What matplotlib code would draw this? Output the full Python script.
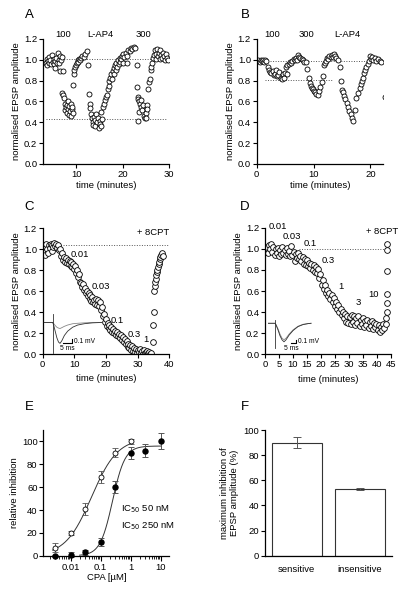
import numpy as np
import matplotlib
matplotlib.use('Agg')
import matplotlib.pyplot as plt

plt.rcParams['font.family'] = ['Liberation Sans', 'DejaVu Sans']
plt.rcParams['font.size'] = 6.8

# ---- panel A: 100 nM, L-AP4, 300 nM ----
a_time = [3.5, 3.6, 3.8, 3.9, 4.1, 4.2, 4.4, 4.6, 4.7, 4.9, 5.1, 5.2, 5.4, 5.5, 5.7, 5.9, 6.0, 6.2, 6.3, 6.5, 6.6, 6.8, 7.0, 7.1,
          6.9, 7.1, 7.3, 7.5, 7.6, 7.8, 7.9, 8.0, 8.2, 8.3, 8.4, 8.5, 8.6, 8.8, 8.9, 9.0, 9.1, 9.2,
          9.2, 9.4, 9.5, 9.7, 9.9, 10.1, 10.3, 10.4, 10.6, 10.8, 11.0, 11.3, 11.6, 11.9, 12.3, 12.6,
          12.8, 12.9, 13.0, 13.2, 13.3, 13.5, 13.6, 13.8, 14.0, 14.1, 14.3, 14.5, 14.6, 14.8, 15.0, 15.1, 15.3, 15.4,
          15.6, 15.8, 16.0, 16.2, 16.4, 16.6, 16.8, 17.0, 17.1, 17.3, 17.5, 17.7, 17.8, 18.0, 18.1, 18.3, 18.5, 18.6,
          18.8, 19.0, 19.1, 19.3, 19.5, 19.6, 19.8, 20.0, 20.1, 20.3, 20.6, 20.8, 21.0, 21.2, 21.5, 21.8, 22.0, 22.3, 22.6,
          23.0, 23.1, 23.2, 23.3, 23.4, 23.5, 23.3, 23.7, 23.9, 24.0, 24.2, 24.4, 24.5, 24.7, 24.9, 25.0, 25.2, 25.3,
          25.5, 25.7, 25.8, 26.0, 26.1, 26.3, 26.5, 26.7, 26.9, 27.1, 27.2, 27.4, 27.6, 27.8, 27.9, 28.1, 28.3, 28.5,
          28.7, 28.9, 29.1, 29.3, 29.5, 29.7]
a_amp = [0.97, 1.01, 0.95, 0.99, 1.03, 0.97, 1.0, 0.96, 1.05, 0.98, 1.01, 0.96, 0.99, 0.92, 1.02, 0.97, 1.07, 1.0, 0.97, 1.04, 0.89, 1.0, 1.03, 0.89,
         0.68, 0.66, 0.63, 0.58, 0.52, 0.55, 0.49, 0.57, 0.53, 0.6, 0.47, 0.56, 0.51, 0.46, 0.58, 0.53, 0.55, 0.49,
         0.76, 0.86, 0.9, 0.93, 0.95, 0.97, 1.0, 0.98, 1.01, 1.0, 1.02, 1.04, 1.03, 1.06, 1.08, 0.95,
         0.67, 0.58, 0.54, 0.48, 0.44, 0.4, 0.37, 0.45, 0.42, 0.36, 0.48, 0.4, 0.44, 0.35, 0.41, 0.38, 0.36, 0.5,
         0.43, 0.55, 0.58, 0.61, 0.64, 0.66, 0.72, 0.75, 0.8, 0.83, 0.86, 0.82, 0.89, 0.92, 0.86, 0.95, 0.9, 0.97,
         0.93, 1.0, 0.96, 1.02, 0.98, 1.01, 1.04, 0.97, 1.06, 1.03, 1.07, 1.04, 0.97, 1.09, 1.08, 1.11, 1.1, 1.12, 1.11,
         0.95, 0.74, 0.64, 0.62, 0.5, 0.6, 0.41, 0.58, 0.61, 0.55, 0.52, 0.57, 0.46, 0.44, 0.49, 0.44, 0.57, 0.53,
         0.72, 0.79, 0.82, 0.9, 0.93, 0.97, 1.02, 1.05, 1.09, 1.06, 1.01, 1.1, 1.04, 1.07, 1.01, 1.09, 1.05, 1.02,
         1.07, 1.04, 1.0, 1.06, 1.02, 1.0]

# ---- panel B: 100 nM, 300 nM, L-AP4 ----
b_time = [0.1, 0.3, 0.5, 0.7, 0.9, 1.1, 1.3, 1.5, 1.7,
          2.0, 2.2, 2.4, 2.6, 2.8, 3.0, 3.2, 3.4, 3.6, 3.8, 4.0, 4.2, 4.4, 4.6, 4.8, 5.0, 5.3,
          5.1, 5.4, 5.6, 5.9, 6.1, 6.3, 6.5, 6.7, 6.9, 7.1, 7.3, 7.5, 7.7, 7.9, 8.1, 8.3,
          8.6, 8.9, 9.2, 9.4, 9.5, 9.7, 9.9, 10.1, 10.3, 10.5, 10.8, 11.0, 11.2, 11.4, 11.6,
          11.8, 12.0, 12.2, 12.4, 12.6, 12.8, 13.0, 13.2, 13.4, 13.6, 13.8, 14.0, 14.3, 14.6,
          14.9, 15.0, 15.2, 15.4, 15.6, 15.8, 16.0, 16.2, 16.5, 16.8, 17.0, 17.3, 17.5, 17.8, 18.1, 18.3,
          18.5, 18.7, 18.9, 19.1, 19.3, 19.5, 19.7, 19.9, 20.1, 20.3, 20.5, 20.8, 21.0, 21.3, 21.6, 21.9, 22.5]
b_amp = [0.99, 1.0, 0.98, 1.0, 0.99, 1.0, 0.98, 1.0, 0.99,
         0.93, 0.9, 0.88, 0.87, 0.89, 0.85, 0.86, 0.9, 0.84, 0.85, 0.88, 0.83, 0.82, 0.86, 0.83, 0.87, 0.86,
         0.93, 0.95, 0.96, 0.98, 0.97, 0.99, 1.01, 1.0, 1.02, 1.0, 1.05, 1.03, 1.02, 1.01, 1.0, 0.98,
         0.98, 0.91, 0.83, 0.78, 0.75, 0.73, 0.72, 0.7, 0.69, 0.67, 0.66, 0.7, 0.74, 0.79, 0.84,
         0.95, 0.97, 0.99, 1.02, 1.01, 1.04, 1.03, 1.05, 1.03, 1.06, 1.04, 1.02, 1.0, 0.93,
         0.8, 0.71, 0.69, 0.65, 0.62, 0.59, 0.55, 0.51, 0.48, 0.44, 0.41, 0.52, 0.63, 0.68, 0.73, 0.77,
         0.8, 0.83, 0.87, 0.9, 0.93, 0.96, 0.99, 1.04, 1.01, 1.03, 1.0, 1.02, 0.99, 1.01, 0.99, 0.98, 0.64]

# ---- panel C: cumulative CPA, sensitive cell ----
c_time = [0.2, 0.5, 0.8, 1.0, 1.3, 1.6, 1.9, 2.2, 2.5, 2.8, 3.1, 3.4, 3.7, 4.0, 4.3, 4.6, 4.9, 5.2, 5.5, 5.8,
          6.1, 6.4, 6.7, 7.0, 7.3, 7.6, 7.9, 8.2, 8.5, 8.8, 9.1, 9.4, 9.7, 10.0, 10.3, 10.6, 10.9, 11.2, 11.5, 11.8,
          12.1, 12.4, 12.7, 13.0, 13.3, 13.6, 13.9, 14.2, 14.5, 14.8, 15.1, 15.4, 15.7, 16.0, 16.3, 16.6, 16.9, 17.2, 17.5, 17.8,
          18.1, 18.4, 18.7, 19.0, 19.3, 19.6, 19.9, 20.2, 20.5, 20.8, 21.1, 21.4, 21.7, 22.0, 22.3, 22.6, 22.9, 23.2, 23.5, 23.8,
          24.1, 24.4, 24.7, 25.0, 25.3, 25.6, 25.9, 26.2, 26.5, 26.8, 27.1, 27.4, 27.7, 28.0, 28.3, 28.6, 28.9, 29.2, 29.5, 29.8,
          30.1, 30.4, 30.7, 31.0, 31.3, 31.6, 31.9, 32.2, 32.5, 32.8, 33.1, 33.4, 33.7, 34.0, 34.3,
          34.9, 35.0, 35.1, 35.2, 35.4, 35.5, 35.7, 35.8, 36.0, 36.2, 36.4, 36.6, 36.8, 37.0, 37.2, 37.5, 37.7, 37.9]
c_amp = [0.97, 1.03, 0.95, 1.05, 1.0, 0.96, 1.04, 1.01, 1.05, 0.98, 1.04, 1.02, 1.06, 1.03, 1.05, 1.01, 1.04, 0.99, 1.0, 0.94,
         0.96, 0.9, 0.93, 0.88, 0.92, 0.87, 0.9, 0.86, 0.89, 0.84, 0.88, 0.83, 0.86, 0.81, 0.84, 0.77, 0.8, 0.74, 0.76, 0.69,
         0.68, 0.64, 0.67, 0.61, 0.63, 0.58, 0.6, 0.55, 0.58, 0.53, 0.56, 0.51, 0.54, 0.5, 0.52, 0.48, 0.53, 0.47, 0.52, 0.46,
         0.5, 0.42, 0.45, 0.36, 0.38, 0.31, 0.33, 0.27, 0.3, 0.25, 0.28, 0.23, 0.26, 0.21, 0.24, 0.2, 0.22, 0.18, 0.21, 0.17,
         0.19, 0.15, 0.18, 0.13, 0.16, 0.11, 0.14, 0.1, 0.12, 0.07, 0.1, 0.06, 0.09, 0.04, 0.08, 0.03, 0.06, 0.02, 0.05, 0.01,
         0.04, 0.02, 0.05, 0.01, 0.03, 0.0, 0.04, 0.01, 0.02, 0.0, 0.03, 0.01, 0.02, 0.0, 0.01,
         0.11, 0.28, 0.4, 0.6, 0.65, 0.69, 0.72, 0.75, 0.78, 0.8, 0.83, 0.86, 0.88, 0.91, 0.93, 0.95, 0.96, 0.94]

# ---- panel D: cumulative CPA, insensitive cell ----
d_time = [0.2, 0.6, 1.0, 1.4, 1.8, 2.2, 2.6, 3.0, 3.4, 3.8, 4.2, 4.6, 5.0, 5.4, 5.8, 6.2, 6.6, 7.0, 7.4, 7.8,
          8.2, 8.6, 9.0, 9.4, 9.8, 10.2, 10.6, 11.0, 11.4, 11.8, 12.2, 12.6, 13.0, 13.4, 13.8, 14.2, 14.6, 15.0, 15.4, 15.8,
          16.2, 16.6, 17.0, 17.4, 17.8, 18.2, 18.6, 19.0, 19.4, 19.8, 20.2, 20.6, 21.0, 21.4, 21.8, 22.2, 22.6, 23.0, 23.4, 23.8,
          24.2, 24.6, 25.0, 25.4, 25.8, 26.2, 26.6, 27.0, 27.4, 27.8, 28.2, 28.6, 29.0, 29.4, 29.8, 30.2, 30.6, 31.0, 31.4, 31.8,
          32.2, 32.6, 33.0, 33.4, 33.8, 34.2, 34.6, 35.0, 35.4, 35.8, 36.2, 36.6, 37.0, 37.4, 37.8, 38.2, 38.6, 39.0, 39.4, 39.8,
          40.2, 40.6, 41.0, 41.4, 41.8, 42.2, 42.6,
          43.4, 43.4, 43.5, 43.5, 43.5, 43.6, 43.7, 43.7]
d_amp = [0.98, 1.02, 0.96, 1.04, 1.0, 1.05, 0.97, 1.02, 0.94, 1.0, 0.96, 1.01, 0.93, 0.99, 0.95, 1.02, 0.96, 0.99, 0.94, 1.01,
         0.95, 0.98, 0.93, 1.03, 0.94, 0.97, 0.88, 0.95, 0.91, 0.96, 0.9, 0.93, 0.88, 0.92, 0.86, 0.9, 0.85, 0.89, 0.84, 0.87,
         0.82, 0.86, 0.8, 0.85, 0.78, 0.83, 0.77, 0.81, 0.72, 0.76, 0.66, 0.7, 0.62, 0.66, 0.58, 0.61, 0.55, 0.58, 0.52, 0.56,
         0.5, 0.53, 0.46, 0.5, 0.43, 0.47, 0.4, 0.43, 0.37, 0.4, 0.34, 0.38, 0.31, 0.36, 0.3, 0.35, 0.29, 0.37, 0.31, 0.36,
         0.28, 0.34, 0.3, 0.36, 0.27, 0.33, 0.29, 0.34, 0.26, 0.32, 0.28, 0.33, 0.25, 0.31, 0.27, 0.32, 0.24, 0.3, 0.26, 0.29,
         0.23, 0.28, 0.21, 0.26, 0.23, 0.29, 0.25,
         0.29, 0.34, 0.4, 0.49, 0.57, 0.79, 0.99, 1.05]

# ---- example EPSP traces (ms, mV) ----
c_trace_ms = [-5, 0, 0.5, 1.5, 2.5, 3.5, 4.4, 5.5, 7, 9, 12, 15, 19, 24, 30]
c_trace_ctrl = [0, 0, -0.05, -0.2, -0.35, -0.45, -0.48, -0.42, -0.3, -0.2, -0.11, -0.06, -0.03, -0.01, 0]
c_trace_cpa = [0, 0, -0.02, -0.07, -0.11, -0.13, -0.14, -0.12, -0.09, -0.06, -0.03, -0.02, -0.01, 0, 0]
d_trace_ms = [-7, 0, 1, 3, 5, 7, 9, 11, 14, 18, 23, 28, 33, 36]
d_trace_ctrl = [0, 0, -0.05, -0.2, -0.38, -0.5, -0.56, -0.5, -0.36, -0.22, -0.1, -0.04, -0.01, 0]
d_trace_cpa = [0, 0, -0.04, -0.17, -0.33, -0.45, -0.5, -0.45, -0.33, -0.2, -0.09, -0.03, -0.01, 0]

# ---- panel E: concentration-response ----
conc_sens = [0.003, 0.01, 0.03, 0.1, 0.3, 1]
inh_sens = [7, 20, 41, 69, 90, 100]
err_sens = [4, 2, 5, 5, 4, 2]
conc_ins = [0.003, 0.01, 0.03, 0.1, 0.3, 1, 3, 10]
inh_ins = [0, 1, 3, 12, 60, 90, 92, 100]
err_ins = [1, 2, 2, 3.5, 5, 5.5, 6, 7]
# fitted Hill parameters (IC50 in uM)
fit_sens = dict(ic50=0.05, n=1.0, top=103, lo=0.0025, hi=1.0)
fit_ins = dict(ic50=0.25, n=2.1, top=96, lo=0.02, hi=10.0)

# ---- panel F ----
groups = ['sensitive', 'insensitive']
max_inh = [90, 53]
max_err = [4.5, 0.6]

fig = plt.figure(figsize=(4.1, 6.11), dpi=100)


def style(ax):
    for s in ['top', 'right']:
        ax.spines[s].set_visible(False)
    for s in ['left', 'bottom']:
        ax.spines[s].set_linewidth(0.9)
    ax.tick_params(direction='out', length=2.6, width=0.8, labelsize=6.8, pad=1.5)


def dots(ax, x, y, ms):
    ax.plot(x, y, 'o', ms=ms, mfc='white', mec='black', mew=0.6, clip_on=True)


dotted = dict(color='#555555', lw=0.7, ls=(0, (1, 1.6)))
ylab = 'normalised EPSP amplitude'

# A
axA = fig.add_axes([0.105, 0.7316, 0.308, 0.2046])
style(axA)
axA.plot([3.4, 29.5], [1.01, 1.01], **dotted)
axA.plot([3.4, 29.5], [0.43, 0.43], **dotted)
dots(axA, a_time, a_amp, 3.6)
axA.set_xlim(2.85, 30)
axA.set_ylim(0, 1.2)
axA.set_xticks([10, 20, 30])
axA.set_yticks(np.arange(0, 1.21, 0.2))
axA.set_yticklabels(['%.1f' % v for v in np.arange(0, 1.21, 0.2)])
axA.set_xlabel('time (minutes)', labelpad=2)
axA.set_ylabel(ylab, labelpad=2)
for txt, t in [('100', 7.1), ('L-AP4', 15.1), ('300', 24.4)]:
    axA.text(t, 1.245, txt, ha='center', va='center', fontsize=6.8, clip_on=False)

# B
axB = fig.add_axes([0.626, 0.7316, 0.308, 0.2046])
style(axB)
axB.plot([1.5, 22.2], [0.99, 0.99], **dotted)
axB.plot([1.5, 13.2], [0.805, 0.805], **dotted)
dots(axB, b_time, b_amp, 3.6)
axB.set_xlim(0, 22.2)
axB.set_ylim(0, 1.2)
axB.set_xticks([0, 10, 20])
axB.set_yticks(np.arange(0, 1.21, 0.2))
axB.set_yticklabels(['%.1f' % v for v in np.arange(0, 1.21, 0.2)])
axB.set_xlabel('time (minutes)', labelpad=2)
axB.set_ylabel(ylab, labelpad=2)
for txt, t in [('100', 2.8), ('300', 8.8), ('L-AP4', 16.0)]:
    axB.text(t, 1.245, txt, ha='center', va='center', fontsize=6.8, clip_on=False)

# C
axC = fig.add_axes([0.104, 0.4206, 0.309, 0.2057])
style(axC)
axC.plot([5, 40], [1.045, 1.045], **dotted)
dots(axC, c_time, c_amp, 4.1)
axC.set_xlim(0, 40)
axC.set_ylim(0, 1.2)
axC.set_xticks([0, 10, 20, 30, 40])
axC.set_yticks(np.arange(0, 1.21, 0.2))
axC.set_yticklabels(['%.1f' % v for v in np.arange(0, 1.21, 0.2)])
axC.set_xlabel('time (minutes)', labelpad=4)
axC.set_ylabel(ylab, labelpad=2)
axC.text(40, 1.16, '+ 8CPT', ha='right', va='center', fontsize=6.8)
for txt, t, v in [('0.01', 8.8, 0.95), ('0.03', 15.5, 0.64), ('0.1', 21.6, 0.32),
                  ('0.3', 26.7, 0.19), ('1', 31.8, 0.14)]:
    axC.text(t, v, txt, ha='left', va='center', fontsize=6.8)

# D
axD = fig.add_axes([0.6463, 0.42, 0.3073, 0.2073])
style(axD)
axD.plot([12, 43], [1.0, 1.0], **dotted)
dots(axD, d_time, d_amp, 4.1)
axD.set_xlim(0, 45)
axD.set_ylim(0, 1.2)
axD.set_xticks(np.arange(0, 46, 5))
axD.set_yticks(np.arange(0, 1.21, 0.2))
axD.set_yticklabels(['%.1f' % v for v in np.arange(0, 1.21, 0.2)])
axD.set_xlabel('time (minutes)', labelpad=4)
axD.set_ylabel(ylab, labelpad=2)
axD.text(47.6, 1.16, '+ 8CPT', ha='right', va='center', fontsize=6.8, clip_on=False)
for txt, t, v in [('0.01', 1.2, 1.21), ('0.03', 6.2, 1.12), ('0.1', 13.7, 1.05), ('0.3', 20.2, 0.89),
                  ('1', 26.2, 0.64), ('3', 32.4, 0.49), ('10', 36.9, 0.57)]:
    axD.text(t, v, txt, ha='left', va='center', fontsize=6.8, clip_on=False)

# insets with example traces
insC = fig.add_axes([0.1049, 0.4173, 0.1463, 0.0786])
insC.axis('off')
insC.set_xlim(-5.8, 30.2)
insC.set_ylim(-0.77, 0.33)
insC.plot(c_trace_ms, c_trace_cpa, color='#888888', lw=0.6)
insC.plot(c_trace_ms, c_trace_ctrl, color='#333333', lw=0.6)
insC.plot([0, 0], [0.2, -0.69], color='#333333', lw=0.6)
insC.plot([6.4, 11.4, 11.4], [-0.48, -0.48, -0.38], color='black', lw=0.8)
insC.text(13, -0.43, '0.1 mV', fontsize=4.8, ha='left', va='center')
insC.text(8.9, -0.52, '5 ms', fontsize=4.8, ha='center', va='top')

insD = fig.add_axes([0.6537, 0.4173, 0.122, 0.072])
insD.axis('off')
insD.set_xlim(-7, 43)
insD.set_ylim(-0.99, 0.34)
insD.plot(d_trace_ms, d_trace_cpa, color='#888888', lw=0.6)
insD.plot(d_trace_ms, d_trace_ctrl, color='#333333', lw=0.6)
insD.plot([0, 0], [0.1, -0.76], color='#333333', lw=0.6)
insD.plot([15.7, 20.7, 20.7], [-0.61, -0.61, -0.51], color='black', lw=0.8)
insD.text(23, -0.55, '0.1 mV', fontsize=4.8, ha='left', va='center')
insD.text(16.5, -0.66, '5 ms', fontsize=4.8, ha='center', va='top')

# E
axE = fig.add_axes([0.1056, 0.0905, 0.3074, 0.2057])
style(axE)
axE.set_xscale('log')
for p in (fit_sens, fit_ins):
    xs = np.logspace(np.log10(p['lo']), np.log10(p['hi']), 200)
    axE.plot(xs, p['top'] / (1 + (p['ic50'] / xs) ** p['n']), color='#333333', lw=0.7)
axE.errorbar(conc_sens, inh_sens, yerr=err_sens, fmt='o', ms=3.6, mfc='white', mec='black', mew=0.6,
             ecolor='#555555', elinewidth=0.7, capsize=2.5, capthick=0.7, clip_on=False)
axE.errorbar(conc_ins, inh_ins, yerr=err_ins, fmt='o', ms=3.6, mfc='black', mec='black',
             ecolor='#555555', elinewidth=0.7, capsize=2.5, capthick=0.7, clip_on=False)
axE.set_xlim(0.00123, 19.5)
axE.set_ylim(0, 110)
axE.set_yticks([0, 20, 40, 60, 80, 100])
axE.set_xticks([0.01, 0.1, 1, 10])
axE.set_xticklabels(['0.01', '0.1', '1', '10'])
minor = [m * 10.0 ** e for e in range(-3, 2) for m in range(2, 10) if 0.00123 < m * 10.0 ** e < 19.5]
axE.set_xticks(minor, minor=True)
axE.set_xticklabels([], minor=True)
axE.tick_params(axis='x', which='major', length=3.5)
axE.tick_params(axis='x', which='minor', length=2, width=0.6)
axE.set_xlabel('CPA [µM]', labelpad=1)
axE.set_ylabel('relative inhibition', labelpad=2)
axE.text(0.48, 40.5, 'IC$_{50}$ 50 nM', fontsize=6.8, va='center')
axE.text(0.48, 25.4, 'IC$_{50}$ 250 nM', fontsize=6.8, va='center')

# F
axF = fig.add_axes([0.6463, 0.0905, 0.3091, 0.2057])
style(axF)
xpos = np.arange(len(groups))
axF.bar(xpos, max_inh, width=0.79, color='white', edgecolor='#333333', linewidth=0.8)
axF.errorbar(xpos, max_inh, yerr=max_err, fmt='none', ecolor='#555555', elinewidth=0.7,
             capsize=3, capthick=0.7)
axF.set_xlim(-0.5, 1.5)
axF.set_ylim(0, 100)
axF.set_yticks([0, 20, 40, 60, 80, 100])
axF.set_xticks(xpos)
axF.set_xticklabels(groups)
axF.tick_params(axis='x', length=0, pad=7)
axF.set_ylabel('maximum inhibition of\nEPSP amplitude (%)', labelpad=3)

for letter, x, y in [('A', 0.0707, 0.9755), ('B', 0.5976, 0.9755), ('C', 0.0707, 0.6612),
                     ('D', 0.5976, 0.6612), ('E', 0.0707, 0.3339), ('F', 0.5976, 0.3339)]:
    fig.text(x, y, letter, fontsize=9.5, ha='center', va='center')

fig.savefig('out.png', dpi=100)
